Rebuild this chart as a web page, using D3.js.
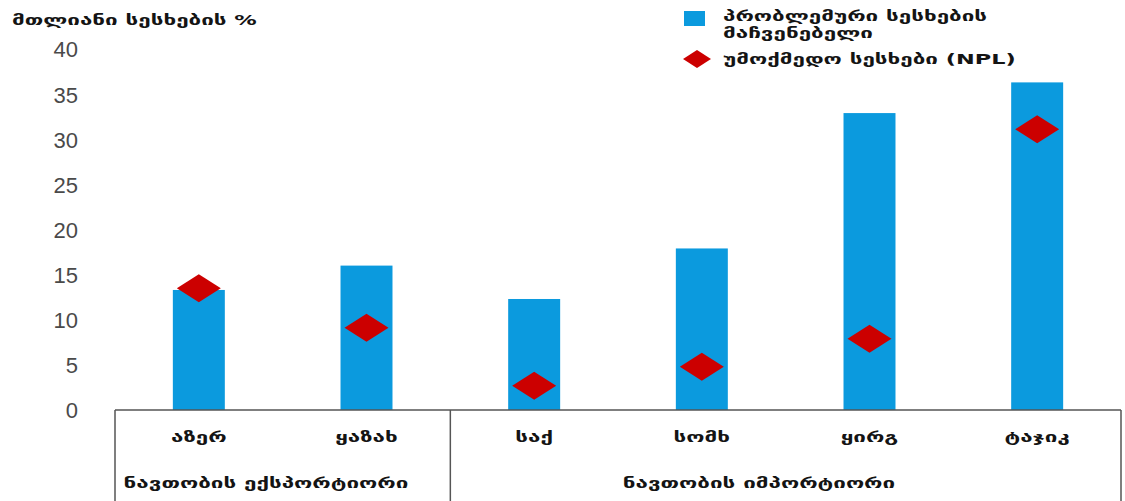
<!DOCTYPE html>
<html>
<head>
<meta charset="utf-8">
<script src="https://cdn.jsdelivr.net/npm/d3@7/dist/d3.min.js"></script>
<style>
  html, body { margin: 0; padding: 0; background: #fff; }
  svg text.geo { font-family: "DejaVu Sans", sans-serif; font-weight: bold; fill: #141414; }
  svg text.tick { font-family: "Liberation Sans", Arial, sans-serif; fill: #4a4a4a; }
</style>
</head>
<body>
<svg id="chart" width="1125" height="501"></svg>
<script>
// Countries and their loan quality indicators (% of total loans)
const countries = ["აზერ", "ყაზახ", "საქ", "სომხ", "ყირგ", "ტაჯიკ"];
const problemLoans = [13.3, 16.0, 12.3, 17.9, 32.9, 36.3];
const nplLoans = [13.5, 9.1, 2.7, 4.8, 7.9, 31.1];
const yTicks = [0, 5, 10, 15, 20, 25, 30, 35, 40];

// Country groups shown under the category labels
const groupNames = ["ნავთობის ექსპორტიორი", "ნავთობის იმპორტიორი"];
const groupMembers = [["აზერ", "ყაზახ"], ["საქ", "სომხ", "ყირგ", "ტაჯიკ"]];

const yTitle = "მთლიანი სესხების %";
const legendBar = ["პრობლემური სესხების", "მაჩვენებელი"];
const legendNpl = "უმოქმედო სესხები (NPL)";

const svg = d3.select("#chart");
const plotLeft = 115, plotRight = 1121, plotTop = 49, plotBase = 410;

// Georgian labels are set in a wide face; widen the glyphs horizontally
const widen = 1.6;
function stretch(sel) {
  sel.each(function () {
    const len = this.getComputedTextLength();
    d3.select(this).attr("textLength", len * widen).attr("lengthAdjust", "spacingAndGlyphs");
  });
}

const x = d3.scaleBand().domain(countries).range([plotLeft, plotRight]).paddingInner(0.69).paddingOuter(0.345);
const y = d3.scaleLinear().domain([0, 40]).range([plotBase, plotTop]);

// y tick labels (no axis line)
const yAxis = d3.axisLeft(y).tickValues(yTicks).tickSize(0).tickPadding(0);
const gy = svg.append("g").attr("transform", "translate(78,0)").call(yAxis);
gy.select(".domain").remove();
gy.selectAll("text").attr("class", "tick").attr("font-size", 22).attr("dy", "0.36em");

// bars
svg.append("g").selectAll("rect").data(countries).join("rect")
  .attr("x", d => x(d))
  .attr("width", x.bandwidth())
  .attr("y", (d, i) => y(problemLoans[i]))
  .attr("height", (d, i) => y(0) - y(problemLoans[i]))
  .attr("fill", "#0b9ade");

// NPL diamonds
const dw = 22, dh = 14;
const diamond = `M${-dw},0L0,${-dh}L${dw},0L0,${dh}Z`;
svg.append("g").selectAll("path").data(countries).join("path")
  .attr("d", diamond)
  .attr("transform", (d, i) => `translate(${x(d) + x.bandwidth() / 2},${y(nplLoans[i])})`)
  .attr("fill", "#cc0000");

// category table below the plot
const lineColor = "#555";
const table = svg.append("g").attr("stroke", lineColor).attr("stroke-width", 1.5).attr("fill", "none");
table.append("line").attr("x1", plotLeft).attr("x2", plotRight).attr("y1", plotBase).attr("y2", plotBase);
const step = x.step();
const groupEdges = [plotLeft];
let acc = plotLeft;
groupMembers.forEach(g => { acc += g.length * step; groupEdges.push(acc); });
groupEdges.forEach(ex => {
  table.append("line").attr("x1", ex).attr("x2", ex).attr("y1", plotBase).attr("y2", 501);
});

svg.append("g").selectAll("text").data(countries).join("text")
  .attr("class", "geo")
  .attr("x", d => x(d) + x.bandwidth() / 2)
  .attr("y", 442)
  .attr("text-anchor", "middle")
  .attr("font-size", 14)
  .text(d => d)
  .call(stretch);

const groupCenters = [266, 759];
svg.append("g").selectAll("text").data(groupNames).join("text")
  .attr("class", "geo")
  .attr("x", (d, i) => groupCenters[i])
  .attr("y", 488)
  .attr("text-anchor", "middle")
  .attr("font-size", 14)
  .text(d => d)
  .call(stretch);

// y axis title
svg.append("text").attr("class", "geo").attr("x", 12).attr("y", 25)
  .attr("font-size", 14).text(yTitle).call(stretch);

// legend
const lg = svg.append("g");
lg.append("rect").attr("x", 684).attr("y", 11).attr("width", 21).attr("height", 15).attr("fill", "#0b9ade");
legendBar.forEach((t, i) => {
  lg.append("text").attr("class", "geo").attr("x", 723).attr("y", 21 + i * 17)
    .attr("font-size", 14).text(t).call(stretch);
});
lg.append("path").attr("d", `M-14,0L0,-9L14,0L0,9Z`).attr("transform", "translate(697,59)").attr("fill", "#cc0000");
lg.append("text").attr("class", "geo").attr("x", 723).attr("y", 64).attr("font-size", 14).text(legendNpl).call(stretch);
</script>
</body>
</html>
